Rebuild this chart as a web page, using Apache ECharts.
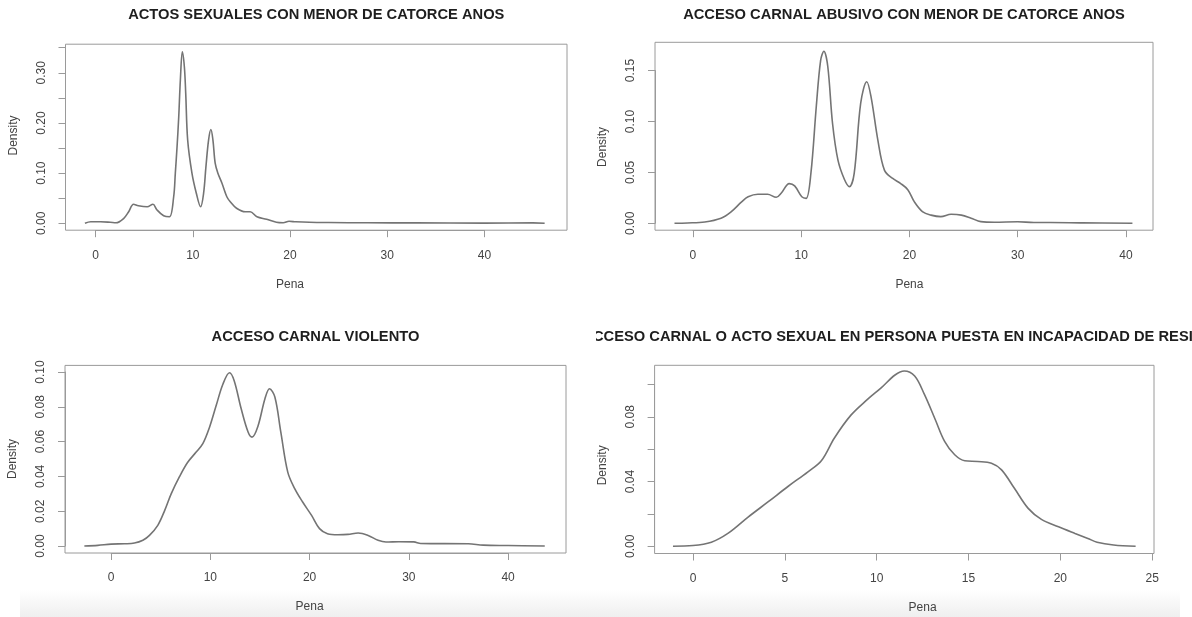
<!DOCTYPE html>
<html>
<head>
<meta charset="utf-8">
<title>Densidad de penas</title>
<script src="https://cdn.jsdelivr.net/npm/echarts/dist/echarts.min.js"></script>
<style>
  html, body { margin: 0; padding: 0; background: #fff; }
  body { width: 1192px; height: 617px; position: relative; overflow: hidden; }
  .panel { position: absolute; width: 596px; }
  #shade {
    position: absolute; left: 20px; top: 590px; width: 1160px; height: 27px;
    background: linear-gradient(to bottom, rgba(240,240,240,0), #efefef);
  }
</style>
</head>
<body>
<div id="shade"></div>
<div id="p1" class="panel" style="left:0;top:0;height:300px"></div>
<div id="p2" class="panel" style="left:596px;top:0;height:300px"></div>
<div id="p3" class="panel" style="left:0;top:300px;height:317px"></div>
<div id="p4" class="panel" style="left:596px;top:300px;height:317px"></div>
<script>
// densidades (x = Pena, y = Density)
var actosPena = [-1.1, -0.5, 0.5, 1.5, 2.1, 2.9, 3.4, 3.9, 4.4, 5.3,
  5.9, 6.3, 7.0, 7.6, 8.03, 8.2, 8.38, 8.55, 8.72, 8.92,
  9.13, 9.27, 9.47, 9.91, 10.36, 10.8, 11.11, 11.35, 11.62, 11.86,
  12.07, 12.3, 12.58, 13.0, 13.5, 13.85, 14.5, 15.4, 15.9, 16.6,
  17.6, 18.6, 19.3, 19.9, 20.6, 22, 24, 28, 33, 40,
  45, 46.2];
var actosDensity = [0.000, 0.003, 0.003, 0.002, 0.001, 0.010, 0.023, 0.038, 0.035, 0.033,
  0.038, 0.027, 0.015, 0.013, 0.053, 0.100, 0.153, 0.212, 0.286, 0.342,
  0.312, 0.259, 0.166, 0.100, 0.060, 0.033, 0.060, 0.113, 0.166, 0.187,
  0.166, 0.120, 0.100, 0.080, 0.053, 0.043, 0.030, 0.023, 0.023, 0.013,
  0.008, 0.002, 0.001, 0.004, 0.003, 0.002, 0.0015, 0.001, 0.0008, 0.0005,
  0.0008, 0.000];

var abusivoPena = [-1.7, -0.5, 1.1, 2.6, 3.5, 4.5, 5.1, 6.0, 6.9, 7.7,
  8.15, 8.9, 9.4, 10.06, 10.46, 10.9, 11.4, 11.8, 12.1, 12.46,
  12.9, 13.4, 14.0, 14.46, 14.9, 15.5, 16.06, 16.46, 17.08, 17.7,
  18.46, 19.2, 19.85, 20.46, 21.2, 22.0, 22.9, 23.85, 24.8, 25.7,
  26.6, 27.85, 30.0, 31.5, 33, 36, 40.6];
var abusivoDensity = [0, 0.0003, 0.0013, 0.005, 0.011, 0.021, 0.026, 0.0285, 0.0285, 0.0255,
  0.0295, 0.039, 0.0367, 0.026, 0.0245, 0.049, 0.115, 0.160, 0.169, 0.154,
  0.098, 0.062, 0.043, 0.036, 0.049, 0.118, 0.139, 0.124, 0.082, 0.052,
  0.044, 0.039, 0.033, 0.021, 0.0115, 0.008, 0.0065, 0.0088, 0.008, 0.005,
  0.0016, 0.001, 0.0015, 0.0008, 0.0008, 0.0004, 0];

var violentoPena = [-2.7, -1.34, 0, 1.34, 2.35, 3.2, 3.86, 4.7, 5.4, 6.05,
  6.9, 7.7, 8.57, 9.24, 9.9, 10.6, 11.26, 11.93, 12.4, 13.1,
  13.8, 14.2, 14.8, 15.5, 15.96, 16.5, 17.1, 17.8, 18.5, 19.3,
  20.2, 21.0, 21.8, 22.85, 23.86, 24.9, 25.9, 26.9, 27.7, 29,
  30.5, 31.2, 36, 37.5, 40, 43.7];
var violentoDensity = [0, 0.0004, 0.0011, 0.0013, 0.0017, 0.0033, 0.0061, 0.0119, 0.0205, 0.030,
  0.040, 0.048, 0.054, 0.0588, 0.068, 0.081, 0.093, 0.0996, 0.095, 0.079,
  0.0655, 0.0626, 0.069, 0.0847, 0.0904, 0.0856, 0.0655, 0.0425, 0.033, 0.0253,
  0.0176, 0.010, 0.0071, 0.0065, 0.0067, 0.0075, 0.0061, 0.0033, 0.0023, 0.0025,
  0.0024, 0.0015, 0.0013, 0.0005, 0.0003, 0];

var incapPena = [-1.09, 0, 1.0, 1.9, 3.0, 4.1, 5.17, 6.26, 7.0, 7.7,
  8.6, 9.5, 10.26, 11.0, 11.5, 12.07, 12.6, 13.2, 13.7, 14.25,
  14.8, 15.5, 16.25, 16.8, 17.5, 18.25, 18.97, 19.9, 20.8, 21.5,
  22.0, 22.9, 24.1];
var incapDensity = [0, 0.0004, 0.0025, 0.0079, 0.018, 0.0275, 0.0369, 0.046, 0.053, 0.0669,
  0.081, 0.0907, 0.098, 0.1058, 0.1083, 0.1052, 0.0938, 0.078, 0.0648, 0.0565,
  0.0528, 0.0524, 0.0513, 0.0472, 0.0358, 0.0234, 0.0166, 0.012, 0.0079, 0.0048,
  0.0025, 0.0008, 0];

var titles = [
  "ACTOS SEXUALES CON MENOR DE CATORCE ANOS",
  "ACCESO CARNAL ABUSIVO CON MENOR DE CATORCE ANOS",
  "ACCESO CARNAL VIOLENTO",
  "ACCESO CARNAL O ACTO SEXUAL EN PERSONA PUESTA EN INCAPACIDAD DE RESISTIR"
];

// ticks: [min, max, step]
var xTicks = [[0, 40, 10], [0, 40, 10], [0, 40, 10], [0, 25, 5]];
var yTicks = [[0, 0.35, 0.05], [0, 0.15, 0.05], [0, 0.10, 0.02], [0, 0.10, 0.02]];
var yLabelEvery = [2, 1, 1, 2];

var font = '"Liberation Sans", Arial, Helvetica, sans-serif';
var lineColor = '#747474';
var boxColor = '#9a9a9a';
var textColor = '#444';

function panel(id, idx, pena, density, box, xlim, ylim, titleY) {
  var chart = echarts.init(document.getElementById(id));
  var L = box[0], T = box[1], R = box[2], B = box[3];
  var W = R - L, H = B - T;
  var px = function (v) { return L + (v - xlim[0]) / (xlim[1] - xlim[0]) * W; };
  var py = function (v) { return T + (ylim[1] - v) / (ylim[1] - ylim[0]) * H; };
  var xt = xTicks[idx], yt = yTicks[idx];
  // second grid only carries the ticks (R draws the axis from first to last tick)
  var gl = px(xt[0]), gr = px(xt[1]), gt = py(yt[1]), gb = py(yt[0]);

  var data = [];
  for (var i = 0; i < pena.length; i++) data.push([pena[i], density[i]]);

  var every = yLabelEvery[idx];
  var option = {
    animation: false,
    backgroundColor: 'transparent',
    grid: [
      { left: L, top: T, width: W, height: H, show: true, borderColor: boxColor, borderWidth: 1,
        backgroundColor: 'transparent', outerBoundsMode: 'none', containLabel: false },
      { left: gl, top: gt, width: gr - gl, height: gb - gt, show: false,
        outerBoundsMode: 'none', containLabel: false }
    ],
    xAxis: [
      { gridIndex: 0, type: 'value', min: xlim[0], max: xlim[1], show: false },
      { gridIndex: 1, type: 'value', min: xt[0], max: xt[1], interval: xt[2],
        position: 'bottom', offset: B - gb,
        axisLine: { show: true, onZero: false, lineStyle: { color: boxColor, width: 1 } },
        axisTick: { show: true, length: 7, lineStyle: { color: boxColor } },
        axisLabel: { margin: 19, color: textColor, fontSize: 12, fontFamily: font,
          formatter: function (v) { return String(Math.round(v)); } },
        splitLine: { show: false },
        name: 'Pena', nameLocation: 'middle', nameGap: 48,
        nameTextStyle: { color: textColor, fontSize: 12, fontFamily: font } }
    ],
    yAxis: [
      { gridIndex: 0, type: 'value', min: ylim[0], max: ylim[1], show: false },
      { gridIndex: 1, type: 'value', min: yt[0], max: yt[1], interval: yt[2],
        position: 'left', offset: gl - L,
        axisLine: { show: true, onZero: false, lineStyle: { color: boxColor, width: 1 } },
        axisTick: { show: true, length: 7, lineStyle: { color: boxColor } },
        axisLabel: { margin: 18, rotate: 90, color: textColor, fontSize: 12, fontFamily: font,
          formatter: function (v) {
            var k = Math.round(v / yt[2]);
            return (k % every === 0) ? v.toFixed(2) : '';
          } },
        splitLine: { show: false },
        name: 'Density', nameLocation: 'middle', nameGap: 46,
        nameTextStyle: { color: textColor, fontSize: 12, fontFamily: font } }
    ],
    graphic: [{
      type: 'text', x: (L + R) / 2, y: titleY,
      style: { text: titles[idx], fill: '#1e1e1e', font: 'bold 14.7px ' + font,
        textAlign: 'center', textVerticalAlign: 'middle', align: 'center', verticalAlign: 'middle' }
    }],
    series: [{
      type: 'line', xAxisIndex: 0, yAxisIndex: 0, data: data,
      showSymbol: false, smooth: 0.35,
      lineStyle: { color: lineColor, width: 1.6 }
    }]
  };
  chart.setOption(option);
}

panel('p1', 0, actosPena, actosDensity, [65.5, 44.2, 567, 230.2], [-3.1, 48.5], [-0.0137, 0.357], 15);
panel('p2', 1, abusivoPena, abusivoDensity, [59, 42.3, 557, 230.2], [-3.5, 42.5], [-0.0068, 0.1778], 15);
panel('p3', 2, violentoPena, violentoDensity, [65, 65.4, 566, 253], [-4.65, 45.84], [-0.004, 0.1038], 37);
panel('p4', 3, incapPena, incapDensity, [58.6, 65.3, 558, 253.5], [-2.09, 25.1], [-0.0045, 0.1118], 37);
</script>
</body>
</html>
